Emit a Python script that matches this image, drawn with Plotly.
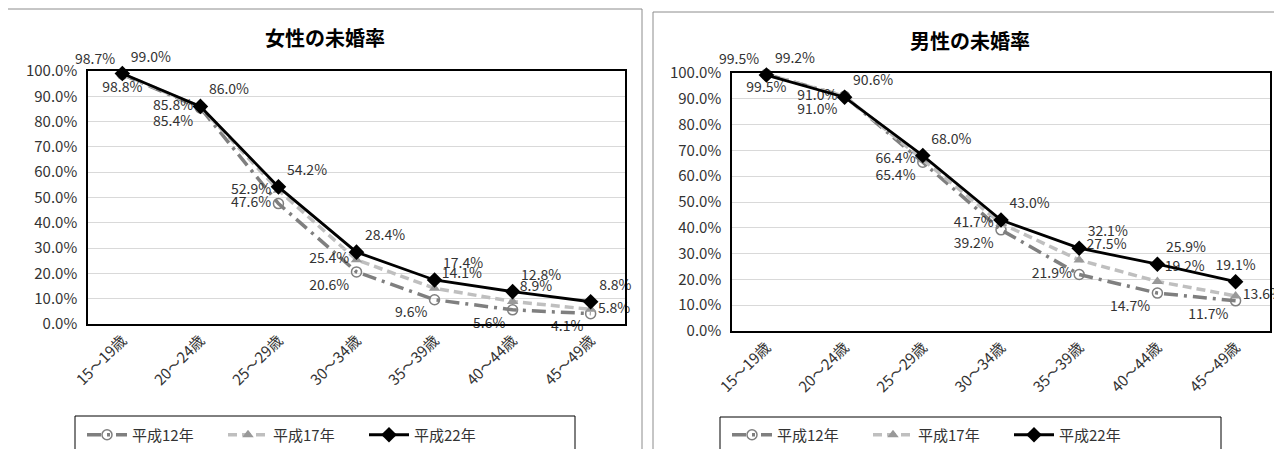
import plotly.graph_objects as go

categories = ["15～19歳", "20～24歳", "25～29歳", "30～34歳", "35～39歳", "40～44歳", "45～49歳"]
series_names = ["平成12年", "平成17年", "平成22年"]

female_h12 = [98.7, 85.4, 47.6, 20.6, 9.6, 5.6, 4.1]
female_h17 = [98.8, 85.8, 52.9, 25.4, 14.1, 8.9, 5.8]
female_h22 = [99.0, 86.0, 54.2, 28.4, 17.4, 12.8, 8.8]

male_h12 = [99.5, 91.0, 65.4, 39.2, 21.9, 14.7, 11.7]
male_h17 = [99.5, 91.0, 66.4, 41.7, 27.5, 19.2, 13.6]
male_h22 = [99.2, 90.6, 68.0, 43.0, 32.1, 25.9, 19.1]

titles = ["女性の未婚率", "男性の未婚率"]

FONT = "Noto Sans CJK JP"
TXT = "#333333"
OFF = 8  # page body margin
W, H = 1282 - OFF, 457 - 2 * OFF

def px(x):
    return (x - OFF) / W

def py(y):
    return 1 - (y - OFF) / H

# label positions (style only)
pos_f = [
    ["top left", "bottom left", "middle left", "bottom left", "bottom left", "bottom left", "bottom left"],
    ["bottom center", "middle left", "middle left", "middle left", "top right", "top right", "middle right"],
    ["top right"] * 7,
]
pos_m = [
    ["top left", "bottom left", "bottom left", "bottom left", "middle left", "bottom left", "bottom left"],
    ["bottom center", "middle left", "middle left", "middle left", "top right", "top right", "middle right"],
    ["top right"] * 6 + ["top center"],
]

styles = [
    dict(line=dict(color="#7f7f7f", width=3.5, dash="14px,6px,3px,6px"),
         marker=dict(symbol="circle-open", size=10, color="#7f7f7f", line=dict(width=1.5, color="#7f7f7f"))),
    dict(line=dict(color="#bfbfbf", width=3.5, dash="9px,5px"),
         marker=dict(symbol="triangle-up", size=10, color="#999999")),
    dict(line=dict(color="#000000", width=2.8),
         marker=dict(symbol="diamond", size=12, color="#000000")),
]

fig = go.Figure()

panels = [
    (female_h12, female_h17, female_h22, "x", "y", "legend", pos_f),
    (male_h12, male_h17, male_h22, "x2", "y2", "legend2", pos_m),
]
for (a, b, c, xa, ya, lg, pos) in panels:
    for name, vals, st, tp in zip(series_names, [a, b, c], styles, pos):
        fig.add_trace(go.Scatter(
            x=categories, y=[v / 100 for v in vals], name=name,
            mode="lines+markers+text", xaxis=xa, yaxis=ya, legend=lg,
            line=st["line"], marker=st["marker"],
            texttemplate="%{y:.1%}", textposition=tp,
            textfont=dict(family=FONT, size=14, color=TXT),
            cliponaxis=False,
        ))

ax_common = dict(showline=True, linecolor="#000000", linewidth=1.5, mirror=True,
                 automargin=False,
                 tickfont=dict(family=FONT, size=15, color=TXT))
xd = [[px(88), px(625)], [px(732), px(1270)]]
yd = [[py(324), py(71)], [py(331), py(73)]]

legend_common = dict(orientation="h", xanchor="left", yanchor="middle",
                     borderwidth=0, bgcolor="rgba(0,0,0,0)",
                     font=dict(family=FONT, size=15, color=TXT),
                     entrywidth=86, entrywidthmode="pixels", itemwidth=40, itemclick=False)

fig.update_layout(
    width=W, height=H, margin=dict(l=0, r=0, t=0, b=0, autoexpand=False),
    paper_bgcolor="white", plot_bgcolor="white",
    font=dict(family=FONT, color=TXT),
    xaxis=dict(domain=xd[0], anchor="y", tickangle=-45, showgrid=False, ticks="", **ax_common),
    yaxis=dict(domain=yd[0], anchor="x", range=[0, 1], dtick=0.1, tickformat=".1%",
               showgrid=True, gridcolor="#d9d9d9", gridwidth=1, ticks="", ticklabelstandoff=6,
               **ax_common),
    xaxis2=dict(domain=xd[1], anchor="y2", tickangle=-45, showgrid=False, ticks="", **ax_common),
    yaxis2=dict(domain=yd[1], anchor="x2", range=[0, 1], dtick=0.1, tickformat=".1%",
                showgrid=True, gridcolor="#d9d9d9", gridwidth=1, ticks="", ticklabelstandoff=6,
                **ax_common),
    legend=dict(x=px(82), y=py(435), **legend_common),
    legend2=dict(x=px(727), y=py(435), **legend_common),
    shapes=[
        dict(type="rect", xref="paper", yref="paper", x0=px(7), x1=px(642), y0=-0.1, y1=py(9),
             line=dict(color="#8c8c8c", width=1), fillcolor="rgba(0,0,0,0)", layer="below"),
        dict(type="rect", xref="paper", yref="paper", x0=px(653), x1=1.1, y0=-0.1, y1=py(12),
             line=dict(color="#8c8c8c", width=1), fillcolor="rgba(0,0,0,0)", layer="below"),
        dict(type="rect", xref="paper", yref="paper", x0=px(75), x1=px(575), y0=py(453), y1=py(416),
             line=dict(color="#000000", width=1), fillcolor="rgba(0,0,0,0)", layer="below"),
        dict(type="rect", xref="paper", yref="paper", x0=px(720), x1=px(1221), y0=py(453), y1=py(417),
             line=dict(color="#000000", width=1), fillcolor="rgba(0,0,0,0)", layer="below"),
    ],
    annotations=[
        dict(text="<b>" + titles[0] + "</b>", x=px(325), y=py(38), xref="paper", yref="paper",
             xanchor="center", yanchor="middle",
             showarrow=False, font=dict(family=FONT, size=20, color="#000000")),
        dict(text="<b>" + titles[1] + "</b>", x=px(970), y=py(40), xref="paper", yref="paper",
             xanchor="center", yanchor="middle",
             showarrow=False, font=dict(family=FONT, size=20, color="#000000")),
    ],
)

fig.write_html("out.html")
